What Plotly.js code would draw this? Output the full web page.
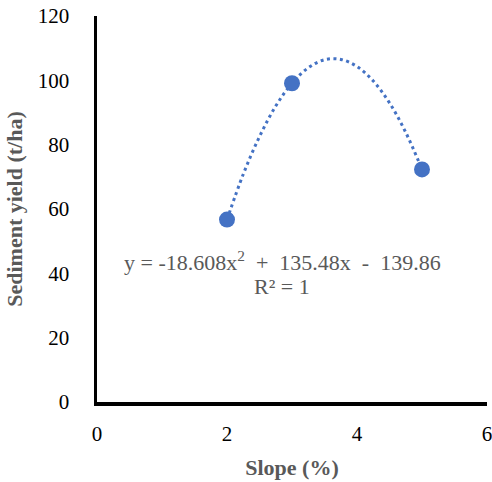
<!DOCTYPE html>
<html>
<head>
<meta charset="utf-8">
<script src="https://cdn.plot.ly/plotly-3.0.1.min.js"></script>
<style>html,body{margin:0;padding:0;background:#fff;}</style>
</head>
<body>
<div id="chart"></div>
<script>
// Observed data points
var slope = [2, 3, 5];
var sedimentYield = [56.7, 99.1, 72.3];
// Dotted polynomial trendline
var trendX = [2, 2.25, 2.5, 2.75, 3, 3.25, 3.5, 3.75, 4, 4.25, 4.5, 4.75, 5];
var trendY = [56.7, 70.8, 82.5, 92.0, 99.1, 103.9, 106.4, 106.5, 104.3, 99.8, 93.0, 83.8, 72.3];
var xTicks = [0, 2, 4, 6];
var yTicks = [0, 20, 40, 60, 80, 100, 120];
var equationText = "y = -18.608x<sup>2</sup>&nbsp; +&nbsp; 135.48x&nbsp; -&nbsp; 139.86";
var r2Text = "R² = 1";

var fam = "Liberation Serif, Times New Roman, serif";
var traces = [
  {x: trendX, y: trendY, mode: "lines", type: "scatter", line: {color: "#4472C4", width: 3, dash: "3px,3.5px", shape: "spline"}, hoverinfo: "skip"},
  {x: slope, y: sedimentYield, mode: "markers", type: "scatter", marker: {color: "#4472C4", size: 16}}
];
var layout = {
  width: 492, height: 482,
  margin: {l: 97, r: 5, t: 16, b: 80},
  paper_bgcolor: "#fff", plot_bgcolor: "#fff",
  showlegend: false,
  font: {family: fam, color: "#000", size: 21},
  xaxis: {
    range: [0, 6], tickvals: xTicks, ticktext: xTicks.map(String),
    showgrid: false, zeroline: false, showline: true, linecolor: "#000", linewidth: 3.5,
    ticks: "outside", ticklen: 10, tickcolor: "rgba(0,0,0,0)", ticklabeloverflow: "allow",
    tickfont: {size: 21, family: fam, color: "#000"},
    title: {text: "<b>Slope (%)</b>", font: {size: 22, family: fam, color: "#595959"}, standoff: 16}
  },
  yaxis: {
    range: [0, 120], tickvals: yTicks, ticktext: yTicks.map(String),
    showgrid: false, zeroline: false, showline: true, linecolor: "#000", linewidth: 3.5,
    ticks: "outside", ticklen: 20, tickcolor: "rgba(0,0,0,0)", ticklabeloverflow: "allow",
    tickfont: {size: 21, family: fam, color: "#000"},
    title: {text: "<b>Sediment yield (t/ha)</b>", font: {size: 22, family: fam, color: "#595959"}, standoff: 10}
  },
  annotations: [
    {x: 2.85, y: 43.8, xref: "x", yref: "y", text: equationText, showarrow: false, font: {size: 22, family: fam, color: "#595959"}},
    {x: 2.84, y: 35.9, xref: "x", yref: "y", text: r2Text, showarrow: false, font: {size: 22, family: fam, color: "#595959"}}
  ]
};
Plotly.newPlot("chart", traces, layout, {displayModeBar: false, staticPlot: true});
</script>
</body>
</html>
